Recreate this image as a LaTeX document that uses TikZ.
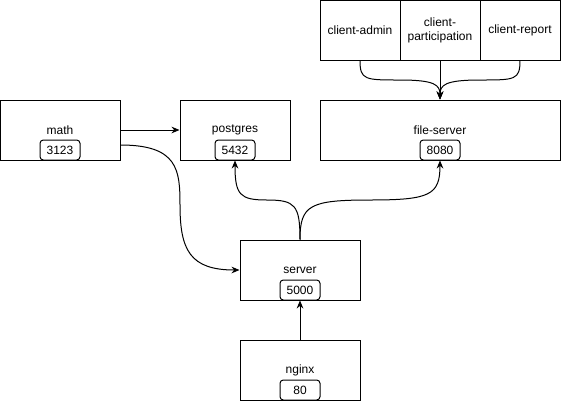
\documentclass[tikz,border=0pt]{standalone}
\usepackage{fontspec}
\setmainfont{Liberation Sans}
\usetikzlibrary{arrows.meta,calc}
\begin{document}
\begin{tikzpicture}[x=0.75pt,y=-0.75pt,
  box/.style={draw,line width=0.75pt,inner sep=0pt,font=\fontsize{9pt}{10.5pt}\selectfont,align=center},
  port/.style={draw,line width=0.75pt,rounded corners=2.5pt,inner sep=0pt,minimum width=30pt,minimum height=15pt,font=\fontsize{9pt}{10.5pt}\selectfont},
  conn/.style={line width=0.75pt,-{Stealth[length=6pt,width=5pt]}},
  curv/.style={line width=0.75pt}]
\fill[white] (0,0) rectangle (561,401);
\useasboundingbox (0,0) rectangle (561,401);
% clients
\node[box,minimum width=60pt,minimum height=45pt] (cadmin) at (360,30) {client-admin};
\node[box,minimum width=60pt,minimum height=45pt] (cpart) at (440,30) {client-\\participation};
\node[box,minimum width=60pt,minimum height=45pt] (creport) at (520,30) {client-report};
% main boxes
\node[box,minimum width=90pt,minimum height=45pt] (math) at (60,130) {};
\node[font=\fontsize{9pt}{10.5pt}\selectfont] (mathlbl) at (60,130) {math};
\node[port] (mathport) at (60,150) {3123};
\node[box,minimum width=82.5pt,minimum height=45pt] (postgres) at (235,130) {};
\node[font=\fontsize{9pt}{10.5pt}\selectfont] (pglbl) at (235,130) {postgres};
\node[port] (pgport) at (235,150) {5432};
\node[box,minimum width=180pt,minimum height=45pt] (fs) at (440,130) {};
\node[font=\fontsize{9pt}{10.5pt}\selectfont] (fslbl) at (440,130) {file-server};
\node[port] (fsport) at (440,150) {8080};
\node[box,minimum width=90pt,minimum height=45pt] (server) at (300,270) {};
\node[font=\fontsize{9pt}{10.5pt}\selectfont] (srvlbl) at (300,270) {server};
\node[port] (srvport) at (300,290) {5000};
\node[box,minimum width=90pt,minimum height=45pt] (nginx) at (300,370) {};
\node[font=\fontsize{9pt}{10.5pt}\selectfont] (nglbl) at (300,370) {nginx};
\node[port] (ngport) at (300,390) {80};
% connectors
\draw[conn] (math.east) -- (postgres.west);
\draw[conn] ($(math.east)+(0,15)$) .. controls (178,145) and (180,170) .. (180,205) .. controls (180,250) and (190,270) .. (server.west);
\draw[conn] (server.north) .. controls (300,205) and (295,200) .. (267,200) .. controls (240,200) and (235,195) .. (pgport.south);
\draw[conn] (server.north) .. controls (300,205) and (310,200) .. (370,200) .. controls (430,200) and (440,195) .. (fsport.south);
\draw[conn] (nginx.north) -- (srvport.south);
\draw[conn] (cadmin.south) .. controls (360,80) and (365,80) .. (400,80) .. controls (435,80) and (440,85) .. (fs.north);
\draw[conn] (creport.south) .. controls (520,80) and (515,80) .. (480,80) .. controls (445,80) and (440,85) .. (fs.north);
\draw[conn] (cpart.south) -- (fs.north);
\end{tikzpicture}
\end{document}
